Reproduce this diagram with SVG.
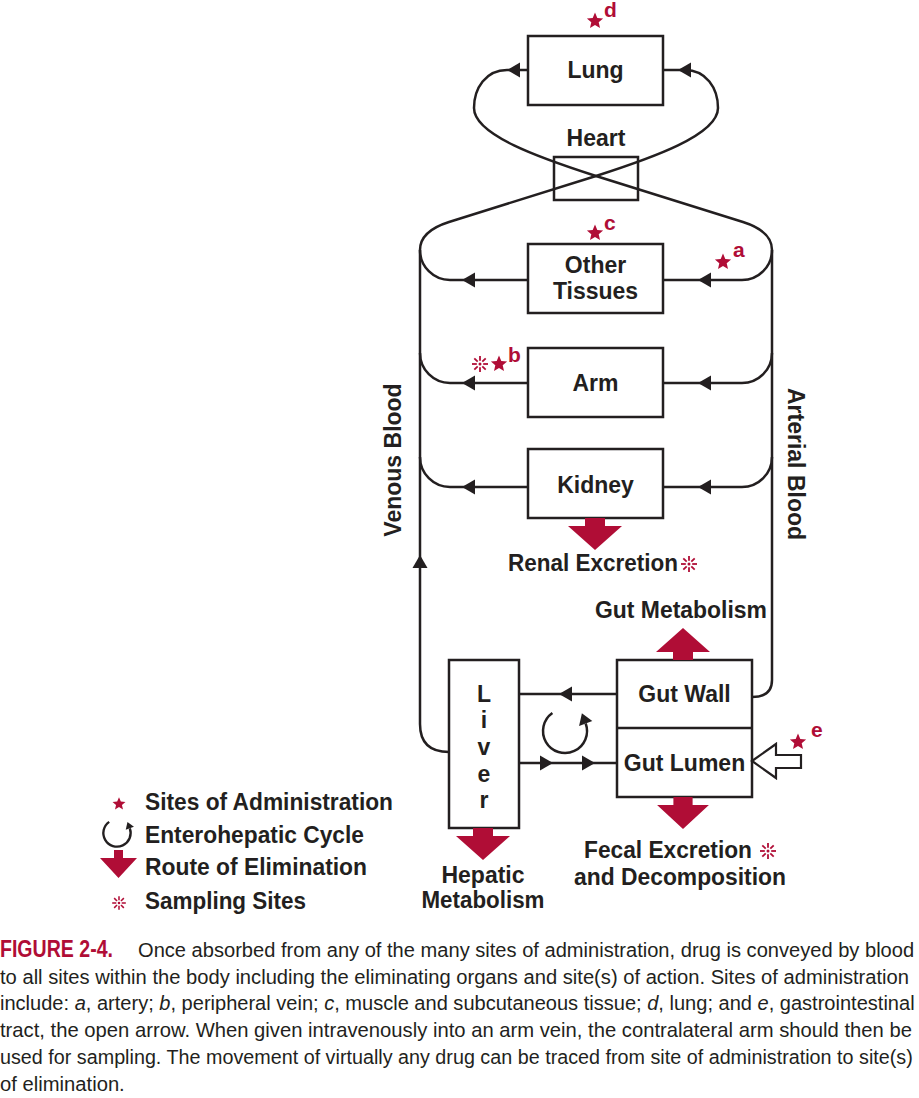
<svg xmlns="http://www.w3.org/2000/svg" xmlns:xlink="http://www.w3.org/1999/xlink" width="919" height="1098" viewBox="0 0 919 1098">
<style>
.box{fill:#fff;stroke:#231f20;stroke-width:2.5}
.ln{fill:none;stroke:#231f20;stroke-width:2.5}
.lbl{font-family:"Liberation Sans",Arial,sans-serif;font-weight:bold;font-size:23px;fill:#231f20}
.mid{text-anchor:middle}
.let{font-family:"Liberation Sans",Arial,sans-serif;font-weight:bold;font-size:21px;fill:#b00d36}
.cap{font-family:"Liberation Sans",Arial,sans-serif;font-size:21px;fill:#231f20}
.capb{font-family:"Liberation Sans",Arial,sans-serif;font-weight:bold;font-size:24px;fill:#b00d36}
.samp line{stroke:#b00d36;stroke-width:1.8;stroke-linecap:butt}
</style>
<defs>
<path id="ah" d="M0,0 L13,-7.5 L13,7.5 Z" fill="#231f20"/>
<polygon id="star" points="0,-8.5 2.3,-3.1 8.1,-2.6 3.7,1.2 5.0,6.9 0,3.9 -5.0,6.9 -3.7,1.2 -8.1,-2.6 -2.3,-3.1" fill="#b00d36"/>
<g id="samp" class="samp">
<circle r="1.5" fill="#b00d36"/>
<line x1="0" y1="-3.2" x2="0" y2="-8"/><line x1="0" y1="3.2" x2="0" y2="8"/>
<line x1="-3.2" y1="0" x2="-8" y2="0"/><line x1="3.2" y1="0" x2="8" y2="0"/>
<line x1="2.3" y1="2.3" x2="5.7" y2="5.7"/><line x1="-2.3" y1="-2.3" x2="-5.7" y2="-5.7"/>
<line x1="2.3" y1="-2.3" x2="5.7" y2="-5.7"/><line x1="-2.3" y1="2.3" x2="-5.7" y2="5.7"/>
</g>
<g id="cycle">
<path d="M -12.6,-18 A 22 22 0 1 0 20.7,-7.5" fill="none" stroke="#231f20"/>
<polygon points="16.9,-17.8 27.3,-9.9 14.1,-5.1" fill="#231f20"/>
</g>
<polygon id="down" points="-10,0 10,0 10,8 27,8 0,32 -27,8 -10,8" fill="#b00d36"/>
</defs>

<g id="connectors">
<path class="ln" d="M 528,70 L 507,70 C 486,70 474,88 474,108 C 474,135 540,158 596,176 L 743,222 C 762,228 772,238 772,250"/>
<path class="ln" d="M 663,70 L 685,70 C 706,70 718,88 718,108 C 718,135 652,158 596,176 L 449,222 C 430,228 420,238 420,250"/>
<path class="ln" d="M 420,250 L 420,724 Q 420,752 449,752"/>
<path class="ln" d="M 772,250 L 772,680 Q 772,697 752,697"/>
<path class="ln" d="M 420,250 A 30 30 0 0 0 450,280 L 528,280"/>
<path class="ln" d="M 772,250 A 30 30 0 0 1 742,280 L 663,280"/>
<path class="ln" d="M 420,353 A 30 30 0 0 0 450,383 L 528,383"/>
<path class="ln" d="M 772,353 A 30 30 0 0 1 742,383 L 663,383"/>
<path class="ln" d="M 420,457 A 30 30 0 0 0 450,487 L 528,487"/>
<path class="ln" d="M 772,457 A 30 30 0 0 1 742,487 L 663,487"/>
<path class="ln" d="M 617,694 L 519,694"/>
<path class="ln" d="M 519,763 L 617,763"/>
<use href="#ah" transform="translate(507,70)"/>
<use href="#ah" transform="translate(678,70)"/>
<use href="#ah" transform="translate(462,280)"/>
<use href="#ah" transform="translate(698,280)"/>
<use href="#ah" transform="translate(462,383)"/>
<use href="#ah" transform="translate(698,383)"/>
<use href="#ah" transform="translate(462,487)"/>
<use href="#ah" transform="translate(698,487)"/>
<use href="#ah" transform="translate(420,555) rotate(90)"/>
<use href="#ah" transform="translate(559,694)"/>
<use href="#ah" transform="translate(553,763) rotate(180)"/>
<use href="#ah" transform="translate(595,763) rotate(180)"/>
</g>

<g id="heart">
<rect x="554" y="157" width="84" height="43" fill="none" stroke="#231f20" stroke-width="2.5"/>
<text class="lbl mid" x="596" y="146">Heart</text>
</g>

<g id="lung">
<rect class="box" x="528" y="36" width="135" height="69"/>
<text class="lbl mid" x="595.5" y="78">Lung</text>
<use href="#star" transform="translate(595,21)"/>
<text class="let" x="604" y="17">d</text>
</g>

<g id="other-tissues">
<rect class="box" x="528" y="244" width="135" height="69"/>
<text class="lbl mid" x="595.5" y="273">Other</text>
<text class="lbl mid" x="595.5" y="299">Tissues</text>
<use href="#star" transform="translate(595,233)"/>
<text class="let" x="604" y="230">c</text>
<use href="#star" transform="translate(723,262)"/>
<text class="let" x="733" y="257">a</text>
</g>

<g id="arm">
<rect class="box" x="528" y="348" width="135" height="69"/>
<text class="lbl mid" x="595.5" y="391">Arm</text>
<use href="#samp" transform="translate(480,364)"/>
<use href="#star" transform="translate(499,364)"/>
<text class="let" x="508" y="362">b</text>
</g>

<g id="kidney">
<rect class="box" x="528" y="449" width="135" height="69"/>
<text class="lbl mid" x="595.5" y="493">Kidney</text>
<use href="#down" transform="translate(595,518)"/>
<text class="lbl" x="508" y="571" textLength="170" lengthAdjust="spacingAndGlyphs">Renal Excretion</text>
<use href="#samp" transform="translate(689,564)"/>
</g>

<g id="venous-label">
<text class="lbl mid" transform="translate(401,460) rotate(-90)">Venous Blood</text>
</g>
<g id="arterial-label">
<text class="lbl mid" transform="translate(788,464) rotate(90)">Arterial Blood</text>
</g>

<g id="gut">
<rect class="box" x="617" y="660" width="135" height="137"/>
<line class="ln" x1="617" y1="728" x2="752" y2="728"/>
<text class="lbl mid" x="684.5" y="702">Gut Wall</text>
<text class="lbl mid" x="684.5" y="771">Gut Lumen</text>
<use href="#down" transform="translate(683,660) scale(1,-1)"/>
<text class="lbl mid" x="681" y="618" textLength="172" lengthAdjust="spacingAndGlyphs">Gut Metabolism</text>
<use href="#down" transform="translate(683,797) scale(0.96,1)"/>
<text class="lbl" x="584" y="858" textLength="168" lengthAdjust="spacingAndGlyphs">Fecal Excretion</text>
<use href="#samp" transform="translate(768,851)"/>
<text class="lbl mid" x="680" y="885" textLength="212" lengthAdjust="spacingAndGlyphs">and Decomposition</text>
<polygon points="752,761 776,744 776,755 801,755 801,768 776,768 776,778" fill="#fff" stroke="#231f20" stroke-width="2.2"/>
<use href="#star" transform="translate(798,742)"/>
<text class="let" x="811" y="737">e</text>
</g>

<g id="liver">
<rect class="box" x="449" y="660" width="70" height="168"/>
<text class="lbl mid" x="484" y="702">L</text>
<text class="lbl mid" x="484" y="728">i</text>
<text class="lbl mid" x="484" y="755">v</text>
<text class="lbl mid" x="484" y="782">e</text>
<text class="lbl mid" x="484" y="808">r</text>
<use href="#down" transform="translate(483,828)"/>
<text class="lbl mid" x="483" y="883">Hepatic</text>
<text class="lbl mid" x="483" y="908" textLength="123" lengthAdjust="spacingAndGlyphs">Metabolism</text>
</g>

<g id="enterohepatic-cycle">
<use href="#cycle" transform="translate(565,731)" stroke-width="2.5"/>
</g>

<g id="legend">
<use href="#star" transform="translate(119,804) scale(0.8)"/>
<text class="lbl" x="145" y="810" textLength="248" lengthAdjust="spacingAndGlyphs">Sites of Administration</text>
<use href="#cycle" transform="translate(117,833) scale(0.62)" stroke-width="3.8"/>
<text class="lbl" x="145" y="843" textLength="219" lengthAdjust="spacingAndGlyphs">Enterohepatic Cycle</text>
<polygon points="114,850 123,850 123,858 137,858 118.5,878 100,858 114,858" fill="#b00d36"/>
<text class="lbl" x="145" y="875" textLength="222" lengthAdjust="spacingAndGlyphs">Route of Elimination</text>
<use href="#samp" transform="translate(119,903) scale(0.85)"/>
<text class="lbl" x="145" y="909" textLength="161" lengthAdjust="spacingAndGlyphs">Sampling Sites</text>
</g>

<g id="caption">
<text class="capb" transform="translate(0,957) scale(0.815,1)">FIGURE 2-4.</text>
<text class="cap" transform="translate(138,957) scale(0.957,1)">Once absorbed from any of the many sites of administration, drug is conveyed by blood</text>
<text class="cap" transform="translate(0,983.5) scale(0.961,1)">to all sites within the body including the eliminating organs and site(s) of action. Sites of administration</text>
<text class="cap" transform="translate(0,1010) scale(0.955,1)">include: <tspan font-style="italic">a</tspan>, artery; <tspan font-style="italic">b</tspan>, peripheral vein; <tspan font-style="italic">c</tspan>, muscle and subcutaneous tissue; <tspan font-style="italic">d</tspan>, lung; and <tspan font-style="italic">e</tspan>, gastrointestinal</text>
<text class="cap" transform="translate(0,1037) scale(0.964,1)">tract, the open arrow. When given intravenously into an arm vein, the contralateral arm should then be</text>
<text class="cap" transform="translate(0,1064) scale(0.941,1)">used for sampling. The movement of virtually any drug can be traced from site of administration to site(s)</text>
<text class="cap" transform="translate(0,1091) scale(0.963,1)">of elimination.</text>
</g>
</svg>
